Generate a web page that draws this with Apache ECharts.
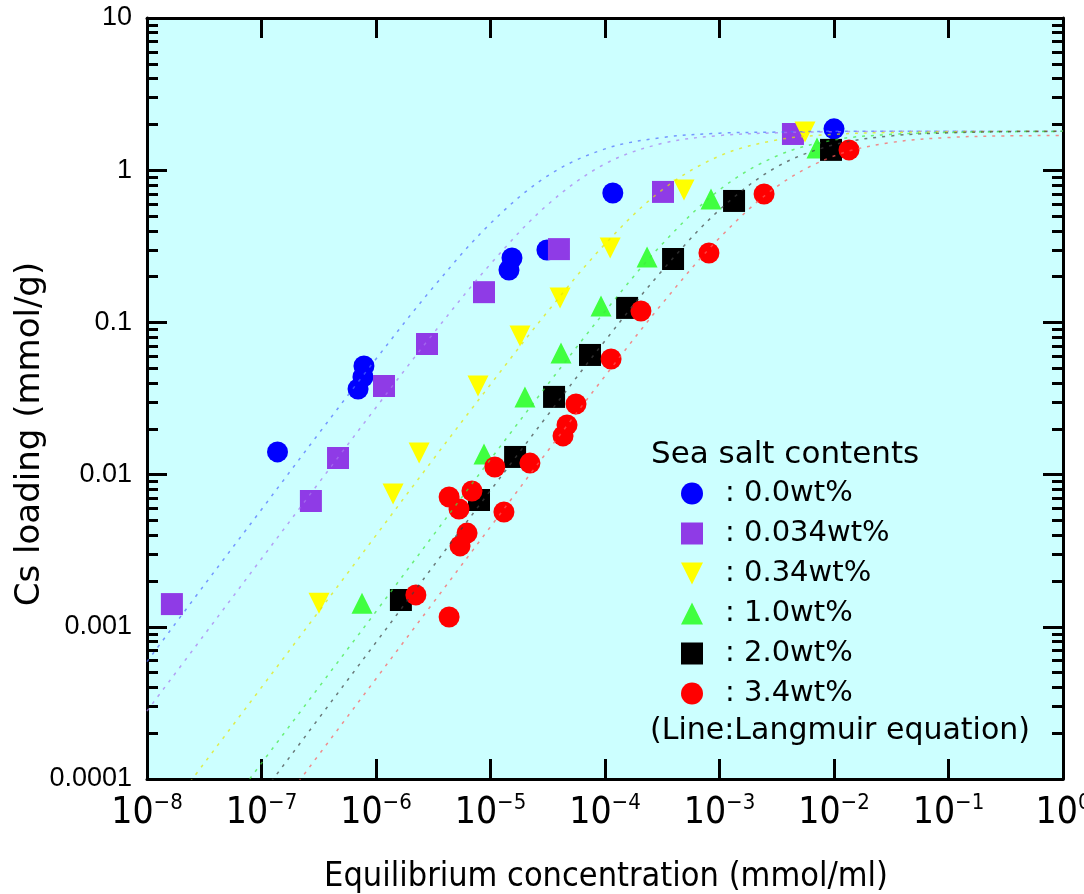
<!DOCTYPE html>
<html><head><meta charset="utf-8">
<script src="https://cdn.jsdelivr.net/npm/echarts@6/dist/echarts.min.js"></script>
<style>html,body{margin:0;padding:0;background:#fff}#c{width:1084px;height:894px}</style>
</head><body><div id="c"></div><script>
// ---- data ----
const seriesNames = ['0.0wt%', '0.034wt%', '0.34wt%', '1.0wt%', '2.0wt%', '3.4wt%'];
const pts00 = [[1.38e-7,0.0141],[6.97e-7,0.0365],[7.69e-7,0.0438],[7.85e-7,0.0517],[1.45e-5,0.221],[1.54e-5,0.265],[3.11e-5,0.299],[1.17e-4,0.708],[1.0e-2,1.87]];
const pts0034 = [[1.65e-8,1.41e-3],[2.70e-7,6.71e-3],[4.66e-7,0.01285],[1.175e-6,0.0382],[2.79e-6,0.0721],[8.77e-6,0.158],[3.96e-5,0.303],[3.21e-4,0.720],[4.38e-3,1.73]];
const pts034 = [[3.18e-7,1.43e-3],[1.41e-6,7.46e-3],[2.38e-6,0.01387],[7.78e-6,0.0382],[1.81e-5,0.0815],[4.05e-5,0.1445],[1.11e-4,0.308],[4.90e-4,0.741],[5.58e-3,1.78]];
const pts10 = [[7.55e-7,1.43e-3],[8.77e-6,0.01364],[2.0e-5,0.0324],[4.13e-5,0.0629],[9.23e-5,0.128],[2.33e-4,0.269],[8.43e-4,0.647],[7.1e-3,1.40]];
const pts20 = [[1.65e-6,1.50e-3],[7.94e-6,6.81e-3],[1.64e-5,0.01306],[3.59e-5,0.0324],[7.4e-5,0.0611],[1.56e-4,0.1245],[3.93e-4,0.261],[1.34e-3,0.628],[9.42e-3,1.36]];
const pts34 = [[2.23e-6,1.62e-3],[4.35e-6,1.16e-3],[4.35e-6,7.13e-3],[5.31e-6,5.94e-3],[6.89e-6,7.80e-3],[6.24e-6,4.13e-3],[5.42e-6,3.40e-3],[1.09e-5,0.01122],[1.31e-5,5.68e-3],[2.21e-5,0.0119],[4.30e-5,0.01795],[4.66e-5,0.0212],[5.58e-5,0.0291],[1.13e-4,0.0575],[2.06e-4,0.1188],[8.09e-4,0.2857],[2.45e-3,0.698],[1.352e-2,1.36]];

// Langmuir curves
const curveX = [1e-8,3.16e-8,1e-7,3.16e-7,1e-6,3.16e-6,1e-5,3.16e-5,1e-4,3.16e-4,1e-3,3.16e-3,1e-2,3.16e-2,1e-1,3.16e-1,1];
const curve00 = [5.9e-4,1.88e-3,5.9e-3,0.0186,0.0575,0.170,0.447,0.919,1.38,1.64,1.75,1.78,1.80,1.80,1.80,1.80,1.80];
const curve0034 = [2.8e-4,8.85e-4,2.8e-3,8.81e-3,0.0276,0.0844,0.242,0.594,1.10,1.50,1.69,1.76,1.79,1.80,1.80,1.80,1.80];
const curve034 = [4.0e-5,1.27e-4,4.0e-4,1.26e-3,3.99e-3,0.0126,0.0391,0.118,0.327,0.743,1.24,1.58,1.72,1.77,1.79,1.80,1.80];
const curve10 = [1.27e-5,4.0e-5,1.27e-4,4.0e-4,1.26e-3,3.99e-3,0.0126,0.0391,0.118,0.327,0.743,1.24,1.58,1.72,1.77,1.79,1.80];
const curve20 = [7.9e-6,2.5e-5,7.9e-5,2.5e-4,7.9e-4,2.5e-3,7.87e-3,0.0246,0.0757,0.219,0.549,1.05,1.47,1.68,1.76,1.79,1.80];
const curve34 = [4.6e-6,1.44e-5,4.56e-5,1.44e-4,4.56e-4,1.44e-3,4.54e-3,0.0143,0.0444,0.133,0.359,0.780,1.24,1.52,1.64,1.68,1.69];

const yMinorTicks = [2e-4,3e-4,4e-4,5e-4,6e-4,7e-4,8e-4,9e-4,2e-3,3e-3,4e-3,5e-3,6e-3,7e-3,8e-3,9e-3,0.02,0.03,0.04,0.05,0.06,0.07,0.08,0.09,0.2,0.3,0.4,0.5,0.6,0.7,0.8,0.9,2,3,4,5,6,7,8,9];
const yTickLabels = {'0.0001':'0.0001','0.001':'0.001','0.01':'0.01','0.1':'0.1','1':'1','10':'10'};

const texts = {
  xTitle: 'Equilibrium concentration (mmol/ml)',
  yTitle: 'Cs loading (mmol/g)',
  legendTitle: 'Sea salt contents',
  legendNote: '(Line:Langmuir equation)'
};

// ---- styling ----
const colors = ['#0000ff','#8f3be6','#ffff00','#40ff40','#000000','#ff0000'];
const lineColors = ['#4d6bff','#a878f0','#e6e600','#3ee83e','#404040','#ff5a5a'];
const downTri = 'path://M0,0L20,0L10,20Z';
const symbols = ['circle','rect',downTri,'triangle','rect','circle'];
const sizes = [21,22,21,21,22,21];
const ptsAll = [pts00,pts0034,pts034,pts10,pts20,pts34];
const curvesAll = [curve00,curve0034,curve034,curve10,curve20,curve34];

const narrow = '"DejaVu Sans Condensed","Liberation Sans",sans-serif';
const sans = '"Liberation Sans",Arial,sans-serif';
const wide = '"DejaVu Sans","Liberation Sans",sans-serif';

const chart = echarts.init(document.getElementById('c'), null, {renderer:'canvas'});

const axisLineStyle = {show:true, lineStyle:{color:'#000', width:3}};
const logX = (pos, showLabel) => ({
  type:'log', logBase:10, min:1e-8, max:1, interval:1, position:pos, gridIndex:0,
  axisLine: axisLineStyle,
  axisTick:{show:true, inside:true, length:20, lineStyle:{color:'#000', width:3}},
  axisLabel: showLabel ? {
    show:true, margin:13,
    formatter: v => '{b|10}{s|' + String(Math.round(Math.log10(v))).replace('-', '\u2212') + '}',
    rich:{
      b:{fontFamily:narrow, fontSize:37, lineHeight:40, color:'#000', verticalAlign:'bottom'},
      s:{fontFamily:narrow, fontSize:22, lineHeight:40, color:'#000', verticalAlign:'top', padding:[0,0,16,0]}
    }
  } : {show:false},
  splitLine:{show:false}, minorTick:{show:false}
});
const logY = (pos, minor, showLabel) => ({
  type:'log', logBase:10, min:1e-4, max:10, interval:1, position:pos, gridIndex:0,
  axisLine: minor ? {show:false} : axisLineStyle,
  axisTick: minor ? {show:true, inside:true, length:11, customValues:yMinorTicks, lineStyle:{color:'#000', width:3}}
                  : {show:true, inside:true, length:20, lineStyle:{color:'#000', width:3}},
  axisLabel: showLabel ? {show:true, margin:15, fontFamily:sans, fontSize:27, color:'#000',
      formatter: v => yTickLabels[String(+v.toPrecision(6))] || String(v)} : {show:false},
  splitLine:{show:false}, minorTick:{show:false}
});

const series = [];
for (let i = 0; i < 6; i++) {
  series.push({
    type:'line', name:'curve'+i, xAxisIndex:0, yAxisIndex:0, z:3,
    data: curveX.map((x, k) => [x, curvesAll[i][k]]),
    showSymbol:false, smooth:0.35, silent:true,
    lineStyle:{color:lineColors[i], width:1.5, type:[3,6], opacity:0.7}
  });
}
for (let i = 0; i < 6; i++) {
  series.push({
    type:'scatter', name:seriesNames[i], xAxisIndex:0, yAxisIndex:0, z:2,
    symbol:symbols[i], symbolSize:sizes[i],
    itemStyle:{color:colors[i], opacity:1},
    data: ptsAll[i]
  });
}

chart.setOption({
  animation:false,
  backgroundColor:'#ffffff',
  grid:{left:147, top:18, width:916, height:761, show:true, backgroundColor:'#ccffff', borderWidth:0,
        containLabel:false, outerBoundsMode:'none'},
  xAxis:[logX('bottom', true), logX('top', false)],
  yAxis:[logY('left', false, true), logY('left', true, false), logY('right', false, false), logY('right', true, false)],
  legend:{
    show:true, orient:'vertical', left:676, top:474, selectedMode:false,
    itemWidth:22, itemHeight:22, itemGap:11,
    data: seriesNames,
    formatter: n => '{g|}: ' + n,
    textStyle:{fontFamily:wide, fontSize:29, color:'#000',
      rich:{g:{width:17, fontSize:29}}}
  },
  graphic:[
    {type:'text', x:651, y:455, style:{text:texts.legendTitle, fontFamily:wide, fontSize:31, fill:'#000', align:'left', verticalAlign:'middle'}},
    {type:'text', x:650, y:731, style:{text:texts.legendNote, fontFamily:wide, fontSize:30, fill:'#000', align:'left', verticalAlign:'middle'}},
    {type:'text', x:606, y:877, style:{text:texts.xTitle, fontFamily:narrow, fontSize:34, fill:'#000', align:'center', verticalAlign:'middle'}},
    {type:'text', x:30, y:434, rotation:Math.PI/2, style:{text:texts.yTitle, fontFamily:wide, fontSize:34, fill:'#000', align:'center', verticalAlign:'middle'}}
  ],
  series: series
});
</script></body></html>
